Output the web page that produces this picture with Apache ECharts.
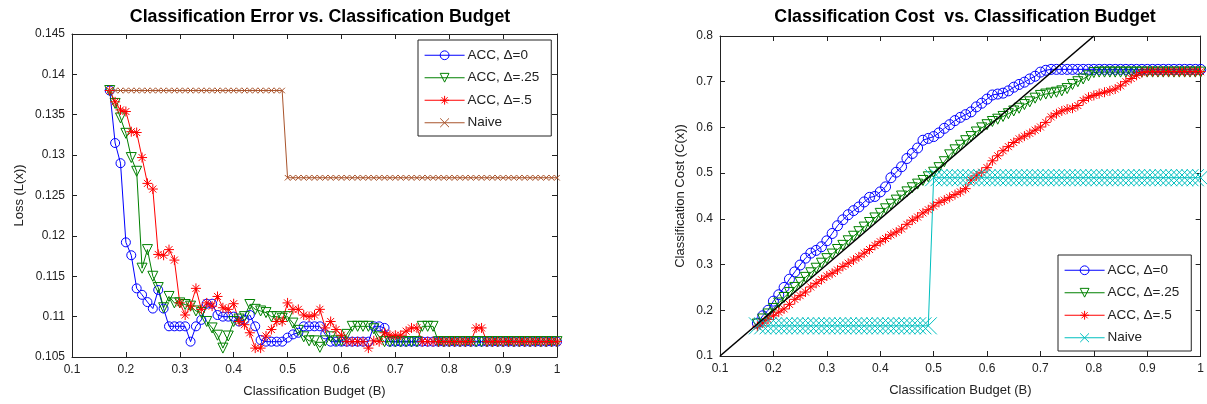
<!DOCTYPE html>
<html><head><meta charset="utf-8">
<script src="https://cdn.jsdelivr.net/npm/echarts@6/dist/echarts.min.js"></script>
<style>html,body{margin:0;padding:0;background:#fff}#c{width:1207px;height:404px}</style>
</head><body><div id="c"></div>
<script>
// ---- data ----
const budget = [0.17,0.18,0.19,0.20,0.21,0.22,0.23,0.24,0.25,0.26,0.27,0.28,0.29,0.30,0.31,0.32,0.33,0.34,0.35,0.36,
0.37,0.38,0.39,0.40,0.41,0.42,0.43,0.44,0.45,0.46,0.47,0.48,0.49,0.50,0.51,0.52,0.53,0.54,0.55,0.56,
0.57,0.58,0.59,0.60,0.61,0.62,0.63,0.64,0.65,0.66,0.67,0.68,0.69,0.70,0.71,0.72,0.73,0.74,0.75,0.76,
0.77,0.78,0.79,0.80,0.81,0.82,0.83,0.84,0.85,0.86,0.87,0.88,0.89,0.90,0.91,0.92,0.93,0.94,0.95,0.96,
0.97,0.98,0.99,1.00];

const lossAcc0 = [0.1380,0.1315,0.1290,0.1192,0.1176,0.1135,0.1127,0.1118,0.1110,0.1133,0.1110,0.1088,0.1088,0.1088,0.1088,0.1069,0.1088,0.1096,0.1116,0.1116,
0.1102,0.1100,0.1100,0.1100,0.1094,0.1096,0.1102,0.1088,0.1071,0.1069,0.1069,0.1069,0.1069,0.1074,0.1078,0.1080,0.1088,0.1088,0.1088,0.1088,
0.1078,0.1069,0.1069,0.1069,0.1069,0.1069,0.1069,0.1069,0.1069,0.1088,0.1088,0.1086,0.1069,0.1069,0.1069,0.1069,0.1069,0.1069,0.1069,0.1069,
0.1069,0.1069,0.1069,0.1069,0.1069,0.1069,0.1069,0.1069,0.1069,0.1069,0.1069,0.1069,0.1069,0.1069,0.1069,0.1069,0.1069,0.1069,0.1069,0.1069,
0.1069,0.1069,0.1069,0.1069];
const lossAcc25 = [0.1380,0.1364,0.1346,0.1327,0.1297,0.1280,0.1160,0.1183,0.1150,0.1136,0.1111,0.1125,0.1117,0.1117,0.1115,0.1113,0.1107,0.1105,0.1094,0.1086,
0.1077,0.1061,0.1076,0.1094,0.1097,0.1100,0.1115,0.1109,0.1107,0.1105,0.1100,0.1100,0.1098,0.1100,0.1092,0.1083,0.1075,0.1070,0.1070,0.1062,
0.1070,0.1075,0.1070,0.1070,0.1078,0.1088,0.1088,0.1088,0.1088,0.1085,0.1075,0.1069,0.1069,0.1069,0.1069,0.1069,0.1069,0.1069,0.1088,0.1088,
0.1088,0.1069,0.1069,0.1069,0.1069,0.1069,0.1069,0.1069,0.1069,0.1069,0.1069,0.1069,0.1069,0.1069,0.1069,0.1069,0.1069,0.1069,0.1069,0.1069,
0.1069,0.1069,0.1069,0.1069];
const lossAcc5 = [0.1380,0.1366,0.1356,0.1354,0.1329,0.1328,0.1297,0.1265,0.1258,0.1177,0.1176,0.1183,0.1170,0.1117,0.1102,0.1113,0.1135,0.1109,0.1117,0.1113,
0.1125,0.1111,0.1109,0.1116,0.1094,0.1090,0.1080,0.1061,0.1061,0.1076,0.1084,0.1094,0.1094,0.1117,0.1109,0.1109,0.1102,0.1100,0.1102,0.1109,
0.1086,0.1094,0.1084,0.1077,0.1069,0.1069,0.1069,0.1069,0.1061,0.1070,0.1069,0.1080,0.1077,0.1077,0.1077,0.1082,0.1086,0.1086,0.1069,0.1069,
0.1069,0.1069,0.1069,0.1069,0.1069,0.1069,0.1069,0.1069,0.1086,0.1086,0.1069,0.1069,0.1069,0.1069,0.1069,0.1069,0.1069,0.1069,0.1069,0.1069,
0.1069,0.1069,0.1069,0.1069];
const lossNaive = [0.138,0.138,0.138,0.138,0.138,0.138,0.138,0.138,0.138,0.138,0.138,0.138,0.138,0.138,0.138,0.138,0.138,0.138,0.138,0.138,
0.138,0.138,0.138,0.138,0.138,0.138,0.138,0.138,0.138,0.138,0.138,0.138,0.138,0.1272,0.1272,0.1272,0.1272,0.1272,0.1272,0.1272,
0.1272,0.1272,0.1272,0.1272,0.1272,0.1272,0.1272,0.1272,0.1272,0.1272,0.1272,0.1272,0.1272,0.1272,0.1272,0.1272,0.1272,0.1272,0.1272,0.1272,
0.1272,0.1272,0.1272,0.1272,0.1272,0.1272,0.1272,0.1272,0.1272,0.1272,0.1272,0.1272,0.1272,0.1272,0.1272,0.1272,0.1272,0.1272,0.1272,0.1272,
0.1272,0.1272,0.1272,0.1272];

const costAcc0 = [0.172,0.188,0.200,0.220,0.234,0.250,0.268,0.284,0.299,0.314,0.325,0.331,0.339,0.352,0.368,0.385,0.398,0.409,0.418,0.426,
0.437,0.447,0.449,0.459,0.470,0.490,0.502,0.514,0.532,0.543,0.555,0.572,0.576,0.580,0.588,0.598,0.606,0.615,0.622,0.628,
0.634,0.645,0.653,0.662,0.671,0.673,0.675,0.680,0.688,0.694,0.699,0.706,0.712,0.721,0.725,0.727,0.727,0.727,0.727,0.727,
0.727,0.727,0.727,0.727,0.727,0.727,0.727,0.727,0.727,0.727,0.727,0.727,0.727,0.727,0.727,0.727,0.727,0.727,0.727,0.727,
0.727,0.727,0.727,0.727];
const costAcc25 = [0.170,0.181,0.192,0.204,0.216,0.228,0.239,0.250,0.261,0.272,0.282,0.292,0.303,0.313,0.323,0.333,0.342,0.352,0.362,0.372,
0.382,0.392,0.402,0.412,0.422,0.432,0.441,0.450,0.459,0.468,0.476,0.484,0.492,0.502,0.512,0.525,0.540,0.551,0.561,0.571,
0.580,0.590,0.599,0.606,0.613,0.618,0.624,0.630,0.636,0.642,0.650,0.656,0.664,0.670,0.673,0.675,0.677,0.680,0.685,0.694,
0.700,0.706,0.713,0.720,0.721,0.721,0.721,0.721,0.721,0.721,0.721,0.721,0.721,0.721,0.721,0.721,0.721,0.721,0.721,0.721,
0.721,0.721,0.721,0.721];
const costAcc5 = [0.165,0.172,0.180,0.188,0.196,0.203,0.213,0.224,0.232,0.240,0.251,0.259,0.267,0.275,0.281,0.288,0.296,0.303,0.310,0.317,
0.325,0.333,0.342,0.350,0.357,0.365,0.371,0.378,0.388,0.397,0.404,0.413,0.420,0.428,0.436,0.441,0.447,0.453,0.459,0.466,
0.485,0.494,0.502,0.512,0.527,0.538,0.549,0.558,0.567,0.575,0.581,0.587,0.594,0.601,0.611,0.623,0.630,0.636,0.640,0.642,
0.648,0.659,0.666,0.670,0.674,0.677,0.680,0.684,0.691,0.700,0.707,0.714,0.720,0.722,0.722,0.722,0.722,0.722,0.722,0.722,
0.722,0.722,0.722,0.722];
const costNaive = [0.166,0.166,0.166,0.166,0.166,0.166,0.166,0.166,0.166,0.166,0.166,0.166,0.166,0.166,0.166,0.166,0.166,0.166,0.166,0.166,
0.166,0.166,0.166,0.166,0.166,0.166,0.166,0.166,0.166,0.166,0.166,0.166,0.166,0.490,0.490,0.490,0.490,0.490,0.490,0.490,
0.490,0.490,0.490,0.490,0.490,0.490,0.490,0.490,0.490,0.490,0.490,0.490,0.490,0.490,0.490,0.490,0.490,0.490,0.490,0.490,
0.490,0.490,0.490,0.490,0.490,0.490,0.490,0.490,0.490,0.490,0.490,0.490,0.490,0.490,0.490,0.490,0.490,0.490,0.490,0.490,
0.490,0.490,0.490,0.490];

const refBudget = [0.1, 0.8];
const refCost = [0.1, 0.8];

const seriesNames = ['ACC, Δ=0', 'ACC, Δ=.25', 'ACC, Δ=.5', 'Naive'];

// ---- styles ----
const FONT = 'Liberation Sans, Arial, Helvetica, sans-serif';
const C_BLUE = '#0000ff', C_GREEN = '#008000', C_RED = '#ff0000', C_BROWN = '#a9542c', C_CYAN = '#00bfbf';
const SYM_X = 'path://M0,0L10,10M10,0L0,10';
const SYM_STAR = 'path://M5,0L5,10M0,5L10,5M1.5,1.5L8.5,8.5M8.5,1.5L1.5,8.5';
const SYM_TRI = 'path://M0,0L10,0L5,8.66Z';

function pairs(xs, ys) { return xs.map((x, i) => [x, ys[i]]); }

function mk(name, idx, ys, color, symbol, size, xs) {
  return {
    type: 'line', name: name, xAxisIndex: idx, yAxisIndex: idx,
    data: pairs(xs || budget, ys),
    symbol: symbol, symbolSize: size, showSymbol: true,
    lineStyle: { color: color, width: 1 },
    itemStyle: { color: 'rgba(0,0,0,0)', borderColor: color, borderWidth: 1 },
    emphasis: { disabled: true }, animation: false, z: 2
  };
}

const axisCommon = {
  axisLine: { show: true, onZero: false, lineStyle: { color: '#222', width: 1 } },
  axisTick: { show: true, inside: true, length: 5, lineStyle: { color: '#222' } },
  splitLine: { show: false },
  axisLabel: { color: '#222', fontSize: 12, fontFamily: FONT, margin: 7 },
  nameTextStyle: { color: '#222', fontSize: 13, fontFamily: FONT }
};
function ax(extra) { return Object.assign({}, JSON.parse(JSON.stringify(axisCommon)), extra); }

const grids = [
  { left: 72, right: 650, top: 34, bottom: 47 },
  { left: 720, right: 2, top: 36, bottom: 48 }
];

const xAxes = [
  ax({ type: 'value', gridIndex: 0, min: 0.1, max: 1, interval: 0.1, name: 'Classification Budget (B)', nameLocation: 'middle', nameGap: 28 }),
  ax({ type: 'value', gridIndex: 1, min: 0.1, max: 1, interval: 0.1, name: 'Classification Budget (B)', nameLocation: 'middle', nameGap: 28 }),
  ax({ type: 'value', gridIndex: 0, min: 0.1, max: 1, interval: 0.1, position: 'top', axisLabel: { show: false } }),
  ax({ type: 'value', gridIndex: 1, min: 0.1, max: 1, interval: 0.1, position: 'top', axisLabel: { show: false } })
];
const yAxes = [
  ax({ type: 'value', gridIndex: 0, min: 0.105, max: 0.145, interval: 0.005, name: 'Loss (L(x))', nameLocation: 'middle', nameGap: 46 }),
  ax({ type: 'value', gridIndex: 1, min: 0.1, max: 0.8, interval: 0.1, name: 'Classification Cost (C(x))', nameLocation: 'middle', nameGap: 33 }),
  ax({ type: 'value', gridIndex: 0, min: 0.105, max: 0.145, interval: 0.005, position: 'right', axisLabel: { show: false } }),
  ax({ type: 'value', gridIndex: 1, min: 0.1, max: 0.8, interval: 0.1, position: 'right', axisLabel: { show: false } })
];

const series = [
  mk('L|' + seriesNames[0], 0, lossAcc0, C_BLUE, 'circle', 9),
  mk('L|' + seriesNames[1], 0, lossAcc25, C_GREEN, SYM_TRI, 10),
  mk('L|' + seriesNames[2], 0, lossAcc5, C_RED, SYM_STAR, 10),
  mk('L|' + seriesNames[3], 0, lossNaive, C_BROWN, SYM_X, 5.5),
  mk('R|' + seriesNames[0], 1, costAcc0, C_BLUE, 'circle', 10),
  mk('R|' + seriesNames[1], 1, costAcc25, C_GREEN, SYM_TRI, 10),
  mk('R|' + seriesNames[2], 1, costAcc5, C_RED, SYM_STAR, 10),
  mk('R|' + seriesNames[3], 1, costNaive, C_CYAN, SYM_X, 17),
  { type: 'line', name: 'ref', xAxisIndex: 1, yAxisIndex: 1, data: pairs(refBudget, refCost),
    symbol: 'none', lineStyle: { color: '#000', width: 1.6 }, animation: false, z: 3, emphasis: { disabled: true } }
];

const legendCommon = {
  orient: 'vertical', itemWidth: 40, itemHeight: 11, itemGap: 8,
  backgroundColor: '#fff', borderColor: '#222', borderWidth: 1, borderRadius: 0,
  padding: [8, 12, 6, 6],
  lineStyle: { width: 1.2 },
  itemStyle: { borderWidth: 1 },
  textStyle: { color: '#222', fontSize: 13.5, lineHeight: 14.5, fontFamily: FONT, padding: [0, 0, 0, -2] },
  formatter: n => n.split('|')[1],
  selectedMode: false
};

const TITLE_STYLE = { fontSize: 17.8, fontWeight: 'bold', color: '#000', fontFamily: FONT };

const option = {
  backgroundColor: '#fff',
  animation: false,
  title: [
    { text: 'Classification Error vs. Classification Budget', left: 315, top: 3, textAlign: 'center', textStyle: TITLE_STYLE },
    { text: 'Classification Cost  vs. Classification Budget', left: 960, top: 3, textAlign: 'center', textStyle: TITLE_STYLE }
  ],
  grid: grids,
  xAxis: xAxes,
  yAxis: yAxes,
  legend: [
    Object.assign({}, legendCommon, { left: 418, top: 40, data: seriesNames.map(n => 'L|' + n) }),
    Object.assign({}, legendCommon, { left: 1058, top: 255, data: seriesNames.map(n => 'R|' + n) })
  ],
  series: series
};

const chart = echarts.init(document.getElementById('c'), null, { renderer: 'canvas' });
chart.setOption(option);
</script>
</body></html>
